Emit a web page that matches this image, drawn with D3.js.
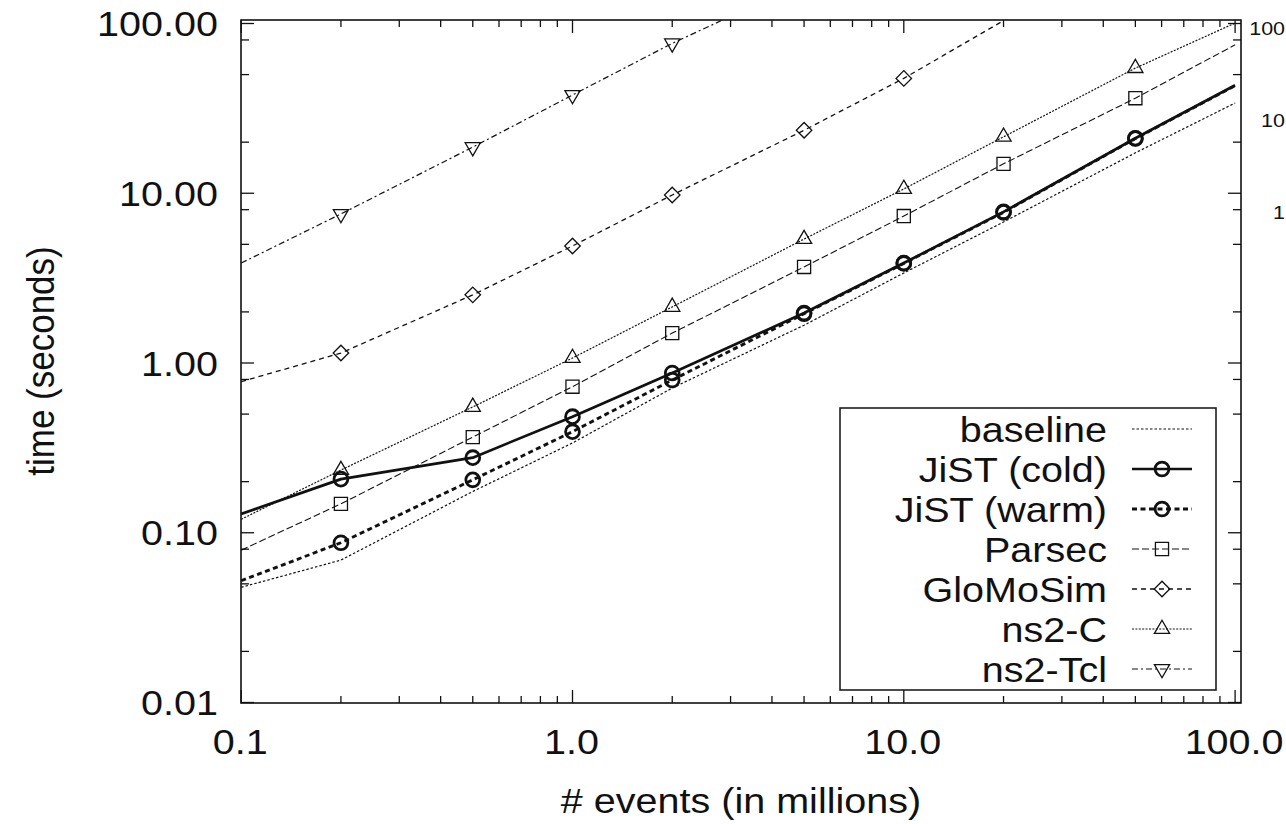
<!DOCTYPE html>
<html><head><meta charset="utf-8">
<script src="https://cdn.jsdelivr.net/npm/d3@7"></script>
<style>
body{margin:0;background:#fff}
svg{display:block}
text{font-family:"Liberation Sans",Arial,Helvetica,sans-serif;fill:#111}
</style>
</head><body>
<svg id="chart" width="1286" height="824"></svg>
<script>
// ---------------- data ----------------
const xValues   = [0.1, 0.2, 0.5, 1, 2, 5, 10, 20, 50, 100];
const markerX   = [0.2, 0.5, 1, 2, 5, 10, 20, 50];
const baseline  = [0.0477, 0.069, 0.175, 0.338, 0.712, 1.67, 3.39, 6.77, 17.3, 34.0];
const jistCold  = [0.129, 0.207, 0.277, 0.483, 0.873, 1.97, 3.88, 7.77, 21.1, 43.3];
const jistWarm  = [0.0522, 0.0873, 0.205, 0.394, 0.794, 1.95, 3.86, 7.72, 21.0, 43.0];
const parsec    = [0.079, 0.148, 0.366, 0.725, 1.50, 3.68, 7.34, 14.9, 36.3, 74.9];
const gloMoSim  = [0.776, 1.145, 2.52, 4.89, 9.77, 23.5, 47.5, 104];
const ns2C      = [0.12, 0.234, 0.551, 1.07, 2.14, 5.37, 10.6, 21.5, 54.6, 100.6];
const ns2Tcl    = [3.88, 7.55, 18.7, 37.9, 76.4, 175];
const seriesNames = ["baseline", "JiST (cold)", "JiST (warm)", "Parsec", "GloMoSim", "ns2-C", "ns2-Tcl"];
const seriesValues = [baseline, jistCold, jistWarm, parsec, gloMoSim, ns2C, ns2Tcl];

const xTickValues = [0.1, 1, 10, 100];
const xTickLabels = ["0.1", "1.0", "10.0", "100.0"];
const yTickValues = [0.01, 0.1, 1, 10, 100];
const yTickLabels = ["0.01", "0.10", "1.00", "10.00", "100.00"];
const xMinorMult  = [2, 3, 4, 5, 6, 7, 8, 9];
const yMinorMult  = [2, 5, 8];
const xTitle = "# events (in millions)";
const yTitle = "time (seconds)";
const sideLabelValues = [100, 10, 1];
const sideLabels = ["100", "10", "1"];

// ---------------- styles ----------------
const styles = {
  "baseline":    {dash: "2.5,2",   w: 1.2, marker: null},
  "JiST (cold)": {dash: null,      w: 2.7, marker: "circle"},
  "JiST (warm)": {dash: "5,3.5",   w: 2.9, marker: "circle"},
  "Parsec":      {dash: "7,3",     w: 1.1, marker: "square"},
  "GloMoSim":    {dash: "5,4",     w: 1.3, marker: "diamond"},
  "ns2-C":       {dash: "2,1.4",   w: 1.2, marker: "triUp"},
  "ns2-Tcl":     {dash: "6,3,2,3", w: 1.2, marker: "triDown"}
};

const svg = d3.select("#chart");
const L = 241, R = 1241, T = 20, B = 703;
const x = d3.scaleLog().domain([0.1, 100]).range([241.2, 1235.1]);
const y = d3.scaleLog().domain([0.01, 100]).range([702.5, 23.5]);
const SX = 1.13; // horizontal stretch of the original lettering

svg.append("defs").append("clipPath").attr("id", "clip")
  .append("rect").attr("x", L).attr("y", T).attr("width", R - L).attr("height", B - T);

// ---------------- ticks ----------------
const xMinor = [];
[0.1, 1, 10].forEach(d => xMinorMult.forEach(m => xMinor.push(d * m)));
const yMinor = [];
[0.01, 0.1, 1, 10].forEach(d => yMinorMult.forEach(m => yMinor.push(d * m)));

const tickG = svg.append("g").attr("stroke", "#111").attr("stroke-width", 1.3);
function vt(vals, len) {
  vals.forEach(v => {
    const px = x(v);
    tickG.append("line").attr("x1", px).attr("x2", px).attr("y1", B).attr("y2", B - len);
    tickG.append("line").attr("x1", px).attr("x2", px).attr("y1", T).attr("y2", T + len);
  });
}
function ht(vals, len) {
  vals.forEach(v => {
    const py = y(v);
    tickG.append("line").attr("y1", py).attr("y2", py).attr("x1", L).attr("x2", L + len);
    tickG.append("line").attr("y1", py).attr("y2", py).attr("x1", R).attr("x2", R - len);
  });
}
vt(xTickValues, 13); vt(xMinor, 7);
ht(yTickValues, 13); ht(yMinor, 8);

// ---------------- tick labels ----------------
const FS = 35;
yTickValues.forEach((v, i) => {
  svg.append("text").attr("transform", `translate(218,${y(v) + 12.5}) scale(${SX},1)`)
    .attr("text-anchor", "end").attr("font-size", FS).text(yTickLabels[i]);
});
xTickValues.forEach((v, i) => {
  svg.append("text").attr("transform", `translate(${x(v) - 1},754) scale(${SX},1)`)
    .attr("text-anchor", "middle").attr("font-size", FS).text(xTickLabels[i]);
});
svg.append("text").attr("transform", `translate(741,813) scale(${SX},1)`)
  .attr("text-anchor", "middle").attr("font-size", FS).text(xTitle);
svg.append("text").attr("transform", `translate(54,361) rotate(-90) scale(1,${SX})`)
  .attr("text-anchor", "middle").attr("font-size", FS).text(yTitle);

// neighbouring axis labels at the right edge
const ySide = d3.scaleLog().domain([1, 100]).range([219, 35]);
sideLabelValues.forEach((v, i) => {
  svg.append("text").attr("transform", `translate(1285,${ySide(v)}) scale(${SX},1)`)
    .attr("text-anchor", "end").attr("font-size", 19).text(sideLabels[i]);
});

// ---------------- series ----------------
const line = d3.line().x(d => x(d.x)).y(d => y(d.y));
const plotG = svg.append("g").attr("clip-path", "url(#clip)");

function markerPath(type) {
  if (type === "circle") return d3.symbol(d3.symbolCircle, 150)();
  if (type === "square") return d3.symbol(d3.symbolSquare, 172)();
  if (type === "diamond") return d3.symbol(d3.symbolSquare, 120)();
  if (type === "triUp" || type === "triDown") return d3.symbol(d3.symbolTriangle, 100)();
  return null;
}
function markerTransform(type, px, py) {
  if (type === "diamond") return `translate(${px},${py}) rotate(45)`;
  if (type === "triDown") return `translate(${px},${py}) rotate(180)`;
  return `translate(${px},${py})`;
}
function markerStroke(type) { return type === "circle" ? 2.8 : 1.3; }

seriesNames.forEach((name, si) => {
  const st = styles[name];
  const pts = seriesValues[si].map((v, i) => ({x: xValues[i], y: v}));
  plotG.append("path").datum(pts).attr("d", line)
    .attr("fill", "none").attr("stroke", "#111").attr("stroke-width", st.w)
    .attr("stroke-dasharray", st.dash).attr("stroke-linejoin", "round");
  if (st.marker) {
    pts.filter(p => markerX.includes(p.x) && p.y <= 100).forEach(p => {
      plotG.append("path").attr("d", markerPath(st.marker))
        .attr("transform", markerTransform(st.marker, x(p.x), y(p.y)))
        .attr("fill", "none").attr("stroke", "#111").attr("stroke-width", markerStroke(st.marker));
    });
  }
});

// ---------------- frame ----------------
svg.append("rect").attr("x", L).attr("y", T).attr("width", R - L).attr("height", B - T)
  .attr("fill", "none").attr("stroke", "#111").attr("stroke-width", 1.6);

// ---------------- legend ----------------
const lg = svg.append("g");
lg.append("rect").attr("x", 840).attr("y", 408).attr("width", 376).attr("height", 282)
  .attr("fill", "#fff").attr("stroke", "#111").attr("stroke-width", 1.5);
seriesNames.forEach((name, i) => {
  const st = styles[name];
  const ry = 429 + i * 40;
  lg.append("text").attr("transform", `translate(1107,${ry + 12.5}) scale(${SX},1)`)
    .attr("text-anchor", "end").attr("font-size", FS).text(name);
  lg.append("line").attr("x1", 1132).attr("x2", 1192).attr("y1", ry).attr("y2", ry)
    .attr("stroke", "#111").attr("stroke-width", st.w).attr("stroke-dasharray", st.dash);
  if (st.marker) {
    lg.append("path").attr("d", markerPath(st.marker))
      .attr("transform", markerTransform(st.marker, 1162, ry))
      .attr("fill", "none").attr("stroke", "#111").attr("stroke-width", markerStroke(st.marker));
  }
});
</script>
</body></html>
